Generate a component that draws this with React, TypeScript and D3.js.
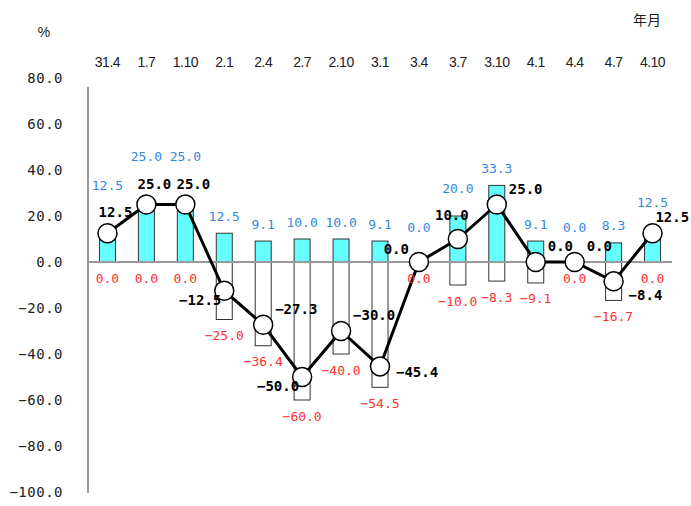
import React from "react";
import * as d3 from "d3";

const categories = ["31.4", "1.7", "1.10", "2.1", "2.4", "2.7", "2.10", "3.1", "3.4", "3.7", "3.10", "4.1", "4.4", "4.7", "4.10"];
const upValues = [12.5, 25.0, 25.0, 12.5, 9.1, 10.0, 10.0, 9.1, 0.0, 20.0, 33.3, 9.1, 0.0, 8.3, 12.5];
const downValues = [0.0, 0.0, 0.0, -25.0, -36.4, -60.0, -40.0, -54.5, 0.0, -10.0, -8.3, -9.1, 0.0, -16.7, 0.0];
const netValues = [12.5, 25.0, 25.0, -12.5, -27.3, -50.0, -30.0, -45.4, 0.0, 10.0, 25.0, 0.0, 0.0, -8.4, 12.5];
const yTicks = [80, 60, 40, 20, 0, -20, -40, -60, -80, -100];
// where each line value label sits relative to its point
const netLabelPlace = ["t", "t", "t", "l", "tr", "l", "tr", "r", "tl", "tc", "tr", "tr", "tr", "br", "tr"];

const W = 691;
const H = 506;
const MONO = "'DejaVu Sans Mono', 'Liberation Mono', monospace";
const SANS = "'Liberation Sans', Arial, sans-serif";

export default function App() {
  const x = d3.scaleBand<string>().domain(categories).range([88, 672]).padding(0);
  const y = d3.scaleLinear().domain([-100, 80]).range([492, 78]);
  const cx = (i: number) => (x(categories[i]) as number) + x.bandwidth() / 2;
  const y0 = y(0);
  const barW = 16;
  const fmt = d3.format(".1f");
  const line = d3
    .line<number>()
    .x((_, i) => cx(i))
    .y((d) => y(d));

  const netLabels = netValues.map((v, i) => {
    const px = cx(i);
    const py = y(v);
    const txt = fmt(v);
    const estW = txt.length * 8.4;
    const p = netLabelPlace[i];
    let lx = px, ly = py, anchor: "start" | "middle" | "end" = "middle";
    if (p === "t") { lx = px + 8; ly = py - 21; anchor = "middle"; }
    else if (p === "tc") { lx = px - 6; ly = py - 24; anchor = "middle"; }
    else if (p === "l") { lx = px - 3; ly = py + 9; anchor = "end"; }
    else if (p === "r") { lx = px + 16; ly = py + 6; anchor = "start"; }
    else if (p === "tr") { lx = Math.min(px + 12, W - 2 - estW); ly = py - 16; anchor = "start"; }
    else if (p === "br") { lx = px + 15; ly = py + 14; anchor = "start"; }
    else if (p === "tl") { lx = px - 10; ly = py - 13; anchor = "end"; }
    const x0 = anchor === "start" ? lx : anchor === "end" ? lx - estW : lx - estW / 2;
    return { lx, ly, anchor, txt, p, x0, x1: x0 + estW };
  });

  const upLabels = upValues.map((v, i) => {
    let ly = Math.min(y(v) - 17, 227);
    const nl = netLabels[i];
    if (nl.p === "t" || nl.p === "tc") ly = Math.min(ly, nl.ly - 27);
    const txt = fmt(v);
    const w = txt.length * 7.8;
    const bx0 = cx(i) - w / 2;
    const bx1 = cx(i) + w / 2;
    // keep clear of the line's own label when they would collide
    if (bx1 > nl.x0 && bx0 < nl.x1 && Math.abs(ly - nl.ly) < 15) ly = nl.ly - 15;
    return { lx: cx(i), ly, txt };
  });

  return (
    <svg
      width={W}
      height={H}
      style={{ position: "absolute", left: 0, top: 0, background: "#fff" }}
    >
      <rect x={0} y={0} width={W} height={H} fill="#fff" />
      {/* unit labels */}
      <text x={44} y={32} fontFamily={SANS} fontSize={14} fill="#222" textAnchor="middle" dominantBaseline="central">%</text>
      <text x={647} y={19} fontFamily="'Noto Sans CJK JP', sans-serif" fontSize={14} fill="#222" textAnchor="middle" dominantBaseline="central">年月</text>

      {/* category labels */}
      {categories.map((c, i) => (
        <text key={"c" + i} x={cx(i)} y={62} fontFamily={SANS} fontSize={14} fill="#222" textAnchor="middle" dominantBaseline="central" letterSpacing={-0.5}>
          {c}
        </text>
      ))}

      {/* y tick labels */}
      {yTicks.map((t) => (
        <text key={"t" + t} x={63} y={y(t)} fontFamily={MONO} fontSize={14} fill="#222" textAnchor="end" dominantBaseline="central" letterSpacing={0.5}>
          {fmt(t)}
        </text>
      ))}

      {/* bars */}
      {upValues.map((v, i) =>
        v > 0 ? (
          <rect key={"u" + i} x={cx(i) - barW / 2} y={y(v)} width={barW} height={y0 - y(v)} fill="#66ffff" stroke="#333" strokeWidth={1} />
        ) : null
      )}
      {downValues.map((v, i) =>
        v < 0 ? (
          <rect key={"d" + i} x={cx(i) - barW / 2} y={y0} width={barW} height={y(v) - y0} fill="#fff" stroke="#333" strokeWidth={1} />
        ) : null
      )}

      {/* zero line and axis */}
      <line x1={88} x2={672} y1={y0} y2={y0} stroke="#999" strokeWidth={2} />
      <line x1={88} x2={88} y1={87} y2={493} stroke="#999" strokeWidth={2} />

      {/* net line */}
      <path d={line(netValues) || ""} fill="none" stroke="#000" strokeWidth={3} strokeLinejoin="round" />
      {netValues.map((v, i) => (
        <circle key={"p" + i} cx={cx(i)} cy={y(v)} r={9.5} fill="#fff" stroke="#000" strokeWidth={1.5} />
      ))}

      {/* up labels */}
      {upLabels.map((l, i) => (
        <text key={"ul" + i} x={l.lx} y={l.ly} fontFamily={MONO} fontSize={13} fill="#3388dd" textAnchor="middle" dominantBaseline="central">
          {l.txt}
        </text>
      ))}
      {/* down labels */}
      {downValues.map((v, i) => (
        <text key={"dl" + i} x={cx(i)} y={Math.max(y(v), y0) + 16} fontFamily={MONO} fontSize={13} fill="#ff3030" textAnchor="middle" dominantBaseline="central">
          {fmt(v)}
        </text>
      ))}
      {/* net labels */}
      {netLabels.map((l, i) => (
        <text key={"nl" + i} x={l.lx} y={l.ly} fontFamily={MONO} fontSize={14} fontWeight="bold" fill="#000" textAnchor={l.anchor} dominantBaseline="central">
          {l.txt}
        </text>
      ))}
    </svg>
  );
}
